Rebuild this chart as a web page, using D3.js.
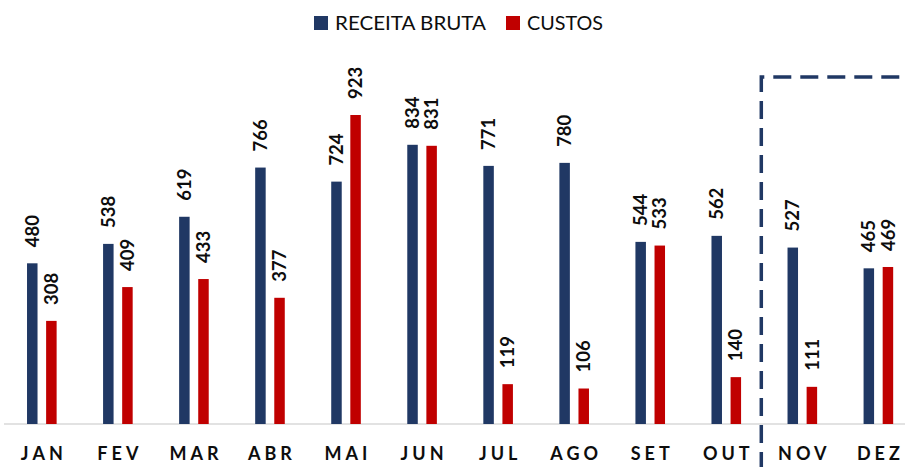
<!DOCTYPE html>
<meta charset="utf-8">
<style>
body { margin: 0; background: #fff; }
svg { display: block; font-family: Lato, "Open Sans", sans-serif; }
</style>
<body>
<svg width="905" height="467"></svg>
<script src="https://d3js.org/d3.v7.min.js"></script>
<script>
// data
var months  = ["JAN", "FEV", "MAR", "ABR", "MAI", "JUN", "JUL", "AGO", "SET", "OUT", "NOV", "DEZ"];
var receita = [480, 538, 619, 766, 724, 834, 771, 780, 544, 562, 527, 465];
var custos  = [308, 409, 433, 377, 923, 831, 119, 106, 533, 140, 111, 469];
var seriesNames = ["RECEITA BRUTA", "CUSTOS"];

var blue = "#203864", red = "#C00000";

var svg = d3.select("svg");

var x = d3.scaleBand().domain(months).range([3.8, 916.4]);
var inner = d3.scaleBand().domain([0, 1]).range([-14.8, 14.8]).paddingInner(0.45);
var y = d3.scaleLinear().domain([0, 923]).range([424, 115]);

var rows = months.map(function(m, i) {
  return { month: m, vals: [receita[i], custos[i]] };
});

// axis line
svg.append("line")
  .attr("x1", 4).attr("x2", 905)
  .attr("y1", y(0)).attr("y2", y(0))
  .attr("stroke", "#d9d9d9").attr("stroke-width", 1.5);

var g = svg.selectAll(".grp")
  .data(rows)
  .enter().append("g")
    .attr("class", "grp")
    .attr("transform", function(d) { return "translate(" + (x(d.month) + x.bandwidth() / 2) + ",0)"; });

g.selectAll("rect")
  .data(function(d) { return d.vals; })
  .enter().append("rect")
    .attr("x", function(d, i) { return inner(i); })
    .attr("width", inner.bandwidth())
    .attr("y", function(d) { return y(d); })
    .attr("height", function(d) { return y(0) - y(d); })
    .attr("fill", function(d, i) { return i == 0 ? blue : red; });

g.selectAll("text.val")
  .data(function(d) { return d.vals; })
  .enter().append("text")
    .attr("class", "val")
    .attr("transform", function(d, i) {
      return "translate(" + (inner(i) + inner.bandwidth() / 2) + "," + (y(d) - 16) + ") rotate(-90)";
    })
    .attr("dy", "0.36em")
    .attr("font-size", 18.5)
    .attr("font-weight", "bold")
    .attr("fill", "#0d0d0d")
    .text(function(d) { return d; });

// month labels
g.append("text")
  .attr("y", 460)
  .attr("dx", 2)
  .attr("text-anchor", "middle")
  .attr("font-size", 18)
  .attr("font-weight", "bold")
  .attr("letter-spacing", 4)
  .attr("fill", "#0d0d0d")
  .text(function(d) { return d.month; });

// forecast box (NOV / DEZ)
var boxX = x("NOV") - 3;
svg.append("path")
  .attr("d", "M" + boxX + ",470 V77 H910")
  .attr("fill", "none")
  .attr("stroke", blue)
  .attr("stroke-width", 3.5)
  .attr("stroke-dasharray", "18,9");

// legend
var legend = svg.append("g");
var lx = [314, 506], lw = [151, 76];
seriesNames.forEach(function(name, i) {
  legend.append("rect")
    .attr("x", lx[i]).attr("y", 16)
    .attr("width", 14).attr("height", 14)
    .attr("fill", i == 0 ? blue : red);
  legend.append("text")
    .attr("x", lx[i] + 21).attr("y", 29.5)
    .attr("font-size", 18.5)
    .attr("textLength", lw[i])
    .attr("lengthAdjust", "spacingAndGlyphs")
    .attr("fill", "#0d0d0d")
    .text(name);
});
</script>
</body>
